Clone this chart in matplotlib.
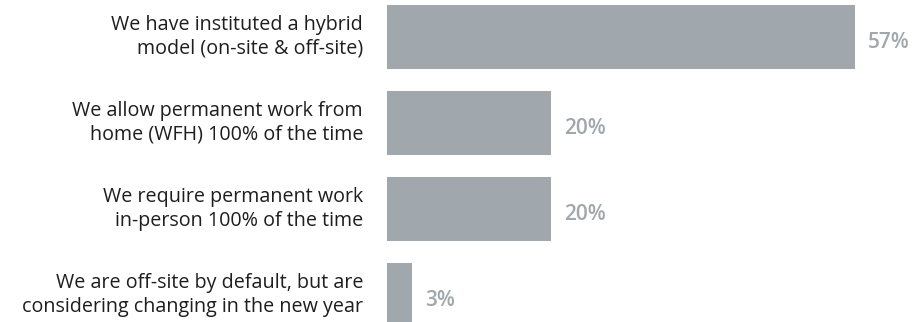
import matplotlib
matplotlib.use("Agg")
import matplotlib.pyplot as plt

categories = [
    "We have instituted a hybrid\nmodel (on-site & off-site)",
    "We allow permanent work from\nhome (WFH) 100% of the time",
    "We require permanent work\nin-person 100% of the time",
    "We are off-site by default, but are\nconsidering changing in the new year",
]
values = [57, 20, 20, 3]
value_labels = ["57%", "20%", "20%", "3%"]

plt.rcParams['font.family'] = ['Open Sans', 'DejaVu Sans']

fig = plt.figure(figsize=(9.14, 3.22), dpi=100)
ax = fig.add_axes([387/914, 0, 1 - 387/914, 1])
bar_color = "#a1a8ad"
ys = list(range(len(values)))
ax.barh(ys, values, height=0.744, color=bar_color)
ax.set_xlim(0, 64.2)
ax.set_ylim(3.314, -0.43)
for y, v, lab in zip(ys, values, value_labels):
    ax.annotate(lab, (v, y), xytext=(13, -6), textcoords="offset pixels",
                ha="left", va="center", fontsize=15, fontweight="semibold", color=bar_color)
for y, c in zip(ys, categories):
    ax.annotate(c, (0, y), xytext=(-24, 0), textcoords="offset pixels",
                ha="right", va="center", fontsize=14.2, color="#1e1e1e", linespacing=1.22,
                annotation_clip=False)
ax.axis("off")
fig.savefig("out.png", dpi=100)
